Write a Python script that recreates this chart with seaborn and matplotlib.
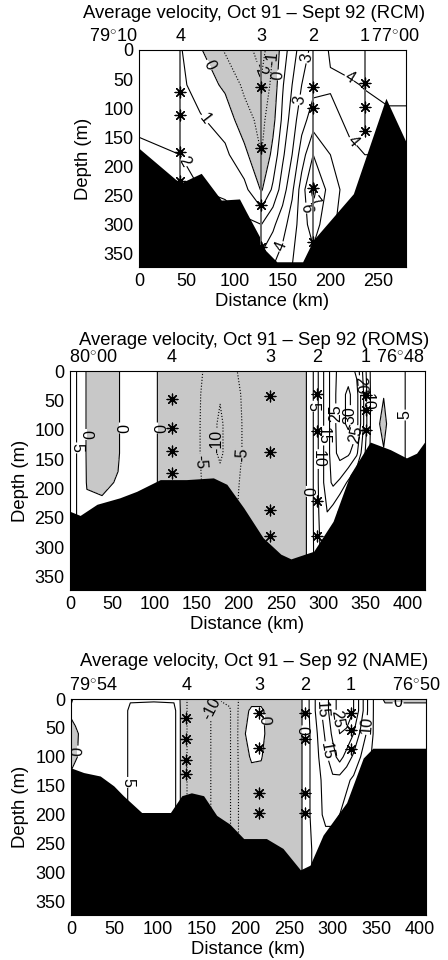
import matplotlib
matplotlib.use("Agg")
import numpy as np
import pandas as pd
import matplotlib.pyplot as plt
import seaborn as sns

# ---------------------------------------------------------------- RCM section
rcm_dist = [0, 43, 64, 90, 110, 128, 140, 150, 160, 170, 182, 200, 220, 236, 260, 280]
rcm_depth = [0, 60, 120, 180, 240, 300, 373]
rcm_speed = [
    [1.3, 1.1, 0.1, -1.1, -1.5, -2.5, -1.0, 0.5, 1.5, 2.5, 3.3, 4.1, 4.4, 4.6, 4.6, 4.6],
    [1.5, 1.2, 0.6, -0.2, -1.2, -1.8, -0.7, 0.9, 2.0, 3.0, 3.7, 3.9, 3.9, 4.05, 4.3, 4.3],
    [1.8, 1.5, 1.1, 0.6, -0.6, -1.3, -0.3, 1.2, 2.5, 3.6, 4.5, 4.3, 3.8, 3.7, 3.8, 3.8],
    [2.2, 2.0, 1.6, 1.2, 0.3, -1.0, 0.3, 1.8, 3.0, 4.5, 6.0, 5.0, 4.2, 4.0, 4.0, 4.0],
    [2.5, 2.3, 2.0, 1.8, 1.3, -0.1, 1.2, 2.5, 3.8, 5.5, 7.3, 5.5, 4.5, 4.2, 4.2, 4.2],
    [2.5, 2.5, 2.5, 2.5, 2.2, 2.0, 2.8, 3.6, 4.5, 5.5, 6.5, 5.2, 4.5, 4.5, 4.5, 4.5],
    [2.5, 2.5, 2.5, 3.0, 3.0, 3.5, 4.0, 4.5, 5.0, 5.2, 5.5, 5.0, 4.5, 4.5, 4.5, 4.5],
]
rcm_levels = [-2, -1, 0, 1, 2, 3, 4, 5, 6, 7]
rcm_bath_x = [0, 43, 65, 86, 105, 112, 126, 132, 144, 171, 182, 203, 224, 258, 279]
rcm_bath_z = [169, 229, 212, 258, 256, 278, 321, 344, 364, 364, 327, 287, 247, 83, 158]
rcm_station_x = [43, 128, 182, 236]
rcm_instr_depths = [[72, 112, 176, 225], [63, 169, 267, 339], [63, 100, 237, 330], [57, 98, 139]]

# --------------------------------------------------------------- ROMS section
roms_dist = [0, 5, 12, 20, 38, 57, 64, 90, 107, 150, 165, 178, 190, 215, 255, 278, 285,
             292, 298, 305, 312, 320, 330, 340, 346, 352, 358, 366, 372, 378, 390, 405, 421]
roms_depth = [0, 40, 90, 140, 190, 240, 373]
roms_speed = [
    [8, 6, 3.5, -0.5, -2, -0.5, 1.5, 2, -0.5, -4, -6, -8, -6, -3, -2, -1, 2,
     8, 13, 18, 23, 27, 28, 24, 16, 9, 3, 1, 1.5, 2.5, 4, 6, 6],
    [8, 6, 3.5, -0.5, -2, -0.5, 1.5, 2, -0.5, -4, -7, -9.5, -7, -3, -2, -1, 2,
     8, 13, 18, 23, 28, 31, 27, 18, 10, 3, 0.8, 0.3, 1.5, 4, 6, 6],
    [8, 6, 3.5, -0.5, -2, -0.5, 1.5, 2, -0.5, -4, -7.5, -11, -7.5, -3, -2, -1, 2,
     8, 13, 18, 23, 28, 31, 27, 18, 10, 3, 0.5, -2, 1.5, 4, 6, 6],
    [8, 6, 3.5, -0.5, -2, -0.5, 1.5, 2, -0.5, -4, -7.5, -11, -7.5, -3, -2, -1, 2,
     8, 13, 18, 23, 27, 26, 21, 14, 8, 3, 1, 0.5, 2, 4, 6, 6],
    [8, 6, 3.5, -0.3, -0.8, 0.3, 1.5, 2, -0.5, -4, -6.5, -8, -6.5, -3, -2, -1, 2,
     8, 13, 18, 21, 19, 14, 9, 6, 4, 3, 2, 2, 3, 4, 6, 6],
    [8, 6, 3.5, 1, 1, 1, 1.5, 2, -0.5, -4, -6, -7, -6, -3, -2, -1, 2,
     8, 12, 15, 13, 9, 6, 4, 3, 3, 3, 3, 3, 3, 4, 6, 6],
    [8, 6, 3.5, 1, 1, 1, 1.5, 2, -0.5, -4, -5, -6, -5, -3, -2, -1, 2,
     7, 10, 12, 10, 7, 5, 4, 3, 3, 3, 3, 3, 3, 4, 6, 6],
]
roms_levels = [-10, -5, 0, 5, 10, 15, 20, 25, 30]
roms_bath_x = [0, 12, 32, 59, 79, 107, 138, 170, 186, 206, 229, 250, 262, 289, 312, 332,
               356, 380, 399, 411, 421]
roms_bath_z = [239, 246, 227, 216, 205, 185, 185, 182, 193, 233, 284, 312, 320, 307, 256,
               177, 121, 134, 148, 140, 120]
roms_station_x = [121, 237, 293, 351]
roms_instr_depths = [[48, 97, 137, 174], [43, 138, 236, 281], [40, 103, 221, 281], [41, 66, 100]]

# --------------------------------------------------------------- NAME section
name_dist = [0, 5, 12, 30, 62, 68, 95, 118, 122, 127, 134, 150, 162, 172, 182, 190, 196,
             207, 218, 225, 245, 264, 270, 276, 284, 292, 300, 308, 316, 324, 332, 340,
             348, 360, 380, 407]
name_depth = [0, 20, 60, 100, 140, 200, 260, 373]
name_speed = [
    [-1, 1.5, 2.5, 3, 4, 4.5, 4.5, 4.5, 3, -2, -5.5, -7, -9, -9.5, -9, -6, -3,
     -1.5, -1.5, -2, -3, -0.5, 3, 7, 13, 18, 23, 27, 28, 25, 18, 10, 4, -1, -1, -1],
    [1, 2, 2.5, 3, 4, 6, 6.5, 6, 4, -2, -5.5, -7, -10.5, -12, -10.5, -6, -2,
     0.8, 0.8, -1, -2.5, -0.5, 3, 7, 13, 18, 23, 27, 28, 25, 18, 10, 4, 2, 2, 2],
    [-2, -1, 1, 3, 4, 6, 6.5, 6, 4, -2, -5.5, -7, -10.5, -12, -10.5, -6, -1,
     1.8, 1.5, -1, -2.5, -0.5, 3, 6, 11, 16, 21, 25, 24, 20, 14, 9, 4, 2, 2, 2],
    [-1.5, -0.5, 1, 3, 4, 6, 6.5, 6, 4, -2, -5.5, -7, -10.5, -12, -10.5, -6, -2,
     0.5, 0.3, -1.5, -2.5, -0.5, 3, 6, 10, 14, 18, 22, 18, 14, 10, 6, 4, 2, 2, 2],
    [1, 2, 2.5, 3, 4, 6, 6.5, 6, 4, -2, -5.5, -7, -10.5, -12, -10.5, -6, -3,
     -1.5, -1.5, -2, -2.5, -0.5, 3, 6, 9, 12, 14, 13, 11, 9, 7, 5, 4, 2, 2, 2],
    [1, 2, 2.5, 3, 4, 6, 6.5, 6, 4, -2, -5.5, -7, -10.5, -12, -10.5, -6, -3,
     -1.5, -1.5, -2, -2.5, -0.5, 3, 6, 9, 11, 11, 10, 8, 6, 5, 4, 3, 2, 2, 2],
    [1, 2, 2.5, 3, 4, 6, 6.5, 6, 4, -2, -5.5, -7, -10.5, -12, -10.5, -6, -3,
     -1.5, -1.5, -2, -2.5, -0.5, 3, 5, 7, 8, 8, 7, 6, 5, 4, 3, 3, 2, 2, 2],
    [1, 2, 2.5, 3, 4, 6, 6.5, 6, 4, -2, -5.5, -7, -10.5, -12, -10.5, -6, -3,
     -1.5, -1.5, -2, -2.5, -0.5, 3, 5, 7, 8, 8, 7, 6, 5, 4, 3, 3, 2, 2, 2],
]
name_levels = [-10, -5, 0, 5, 10, 15, 20, 25]
name_bath_x = [0, 14.5, 33.5, 49, 60, 81, 114, 127, 138, 152, 167, 182, 198, 224, 243,
               263, 274, 289, 316, 335, 346, 407]
name_bath_z = [119, 127, 133, 150, 167, 196, 196, 167, 162, 167, 201, 216, 241, 241, 258,
               295, 287, 235, 179, 102, 85, 85]
name_station_x = [132, 216, 268, 321]
name_instr_depths = [[32, 69, 105, 130], [25, 85, 162, 197], [24, 69, 162, 197], [24, 54, 86]]

station_names = ["4", "3", "2", "1"]
titles = [
    "Average velocity, Oct 91 \u2013 Sept 92 (RCM)",
    "Average velocity, Oct 91 \u2013 Sep 92 (ROMS)",
    "Average velocity, Oct 91 \u2013 Sep 92 (NAME)",
]
lon_labels = [
    ("79$^{\\circ}$10", "77$^{\\circ}$00"),
    ("80$^{\\circ}$00", "76$^{\\circ}$48"),
    ("79$^{\\circ}$54", "76$^{\\circ}$50"),
]

GRAY = "#c8c8c8"
MAX_DEPTH = 373

sns.set_theme(style="ticks")
plt.rcParams.update({
    "font.family": ["Liberation Sans", "DejaVu Sans"],
    "mathtext.fontset": "custom",
    "mathtext.rm": "Liberation Sans",
    "axes.unicode_minus": False,
    "xtick.direction": "in",
    "ytick.direction": "in",
    "xtick.top": True,
    "ytick.right": True,
    "xtick.major.size": 3,
    "ytick.major.size": 3,
    "xtick.major.width": 0.6,
    "ytick.major.width": 0.6,
    "xtick.major.pad": 4,
    "ytick.major.pad": 4,
    "axes.linewidth": 0.8,
    "axes.edgecolor": "black",
    "xtick.color": "black",
    "ytick.color": "black",
    "xtick.labelsize": 13,
    "ytick.labelsize": 13,
    "axes.labelsize": 13.3,
    "text.color": "black",
    "axes.labelcolor": "black",
})

fig = plt.figure(figsize=(4.48, 9.6), dpi=100)


def draw_section(ax, dist, depth, speed, levels, bath_x, bath_z, xmax, xticks,
                 station_x, instr_depths, lon_left, lon_right, label_pts,
                 mooring_lines, ylab_x, title, title_y):
    X, Y = np.meshgrid(dist, depth)
    Z = np.array(speed, dtype=float)
    ax.set_xlim(0, xmax)
    ax.set_ylim(MAX_DEPTH, 0)

    # westward flow shaded grey, eastward flow white
    ax.contourf(X, Y, Z, levels=[-100, 0, 100], colors=[GRAY, "white"], zorder=1)
    cs = ax.contour(X, Y, Z, levels=levels, colors="black", linewidths=0.8,
                    negative_linestyles="dotted", zorder=2)
    ax.clabel(cs, fmt="%g", fontsize=11.5, inline=True, inline_spacing=1,
              manual=label_pts)

    # sea floor
    ax.fill_between(bath_x, bath_z, 400, color="black", lw=0, zorder=3)

    # moorings and instrument depths
    recs = []
    for sx, ds in zip(station_x, instr_depths):
        if mooring_lines:
            ax.plot([sx, sx], [0, max(ds)], color="#6a6a6a", lw=1.4, zorder=4)
        recs += [{"dist": sx, "depth": d} for d in ds]
    instr = pd.DataFrame(recs)
    sns.scatterplot(data=instr, x="dist", y="depth", ax=ax, marker=(8, 2, 0), s=60,
                    color="black", edgecolor="black", linewidth=0.9, zorder=5,
                    legend=False)

    ax.set_xticks(xticks)
    ax.set_yticks(range(0, 351, 50))
    ax.set_xlabel("Distance (km)")
    ax.set_ylabel("Depth (m)")
    ax.xaxis.set_label_coords(0.5, -0.12)
    ax.yaxis.set_label_coords(ylab_x, 0.5)
    for s in ax.spines.values():
        s.set_visible(True)
        s.set_zorder(6)

    # station numbers and end longitudes along the top
    tops = [(lon_left[0], lon_left[1])] + \
           [(sx, nm) for sx, nm in zip(station_x, station_names)] + \
           [(lon_right[0], lon_right[1])]
    for x, txt in tops:
        ax.annotate(txt, xy=(x, 1.0), xycoords=("data", "axes fraction"),
                    xytext=(0, 3.5), textcoords="offset points",
                    ha="center", va="bottom", fontsize=13, annotation_clip=False)

    fig.text(254 / 448, 1 - title_y / 960, title, ha="center", va="center", fontsize=13.3)


# panel boxes in figure pixels: left, top, right, bottom
boxes = [(139, 50, 406, 267), (70, 371, 425, 590), (71, 699, 426, 915)]


def add_box(b):
    l, t, r, bt = b
    return fig.add_axes([l / 448, 1 - bt / 960, (r - l) / 448, (bt - t) / 960])


ax1 = add_box(boxes[0])
draw_section(ax1, rcm_dist, rcm_depth, rcm_speed, rcm_levels, rcm_bath_x, rcm_bath_z,
             279, range(0, 251, 50), rcm_station_x, rcm_instr_depths,
             (-27, lon_labels[0][0]), (268, lon_labels[0][1]),
             [(69, 29), (60, 129), (50, 189), (125, 34), (138, 14), (146, 43),
              (164, 85), (176, 14), (223, 40), (223, 158), (172, 272), (181, 261),
              (146, 336)],
             True, -0.176, titles[0], 13)

ax2 = add_box(boxes[1])
draw_section(ax2, roms_dist, roms_depth, roms_speed, roms_levels, roms_bath_x, roms_bath_z,
             421, range(0, 401, 50), roms_station_x, roms_instr_depths,
             (28, lon_labels[1][0]), (392, lon_labels[1][1]),
             [(18, 108), (6, 131), (57, 97), (107, 97), (174, 120), (160, 154),
              (196, 142), (280, 205), (289, 60), (294, 150), (300, 110), (312, 72),
              (330, 75), (344, 24), (354, 52), (338, 108), (397, 75)],
             False, -0.116, titles[1], 340)

ax3 = add_box(boxes[2])
draw_section(ax3, name_dist, name_depth, name_speed, name_levels, name_bath_x, name_bath_z,
             407, range(0, 401, 50), name_station_x, name_instr_depths,
             (26, lon_labels[2][0]), (396, lon_labels[2][1]),
             [(10, 90), (66, 144), (158, 15), (219, 36), (266, 55), (287, 19),
              (312, 34), (340, 45), (297, 89), (375, 5)],
             False, -0.119, titles[2], 661)

fig.savefig("out.png", dpi=100)
